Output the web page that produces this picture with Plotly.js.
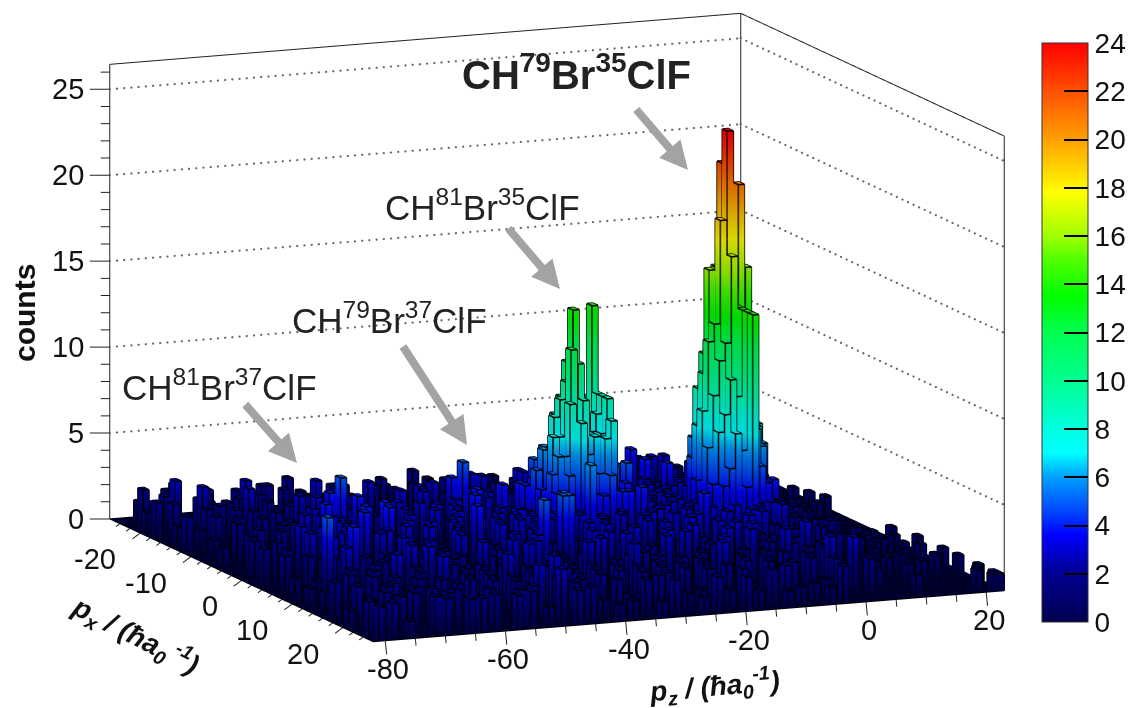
<!DOCTYPE html>
<html><head><meta charset="utf-8">
<script src="https://cdn.plot.ly/plotly-3.0.1.min.js"></script>
<style>html,body{margin:0;padding:0;background:#fff}#g{width:1128px;height:708px}</style></head>
<body><div id="g"></div>
<script>
// Axis extents and ticks
const pxEdges=[-26,26], pzEdges=[-82,23], zTop=26.45;
const zMajor=[0,5,10,15,20,25], zMinor=[1,2,3,4,6,7,8,9,11,12,13,14,16,17,18,19,21,22,23,24,26];
const pzMajor=[-80,-60,-40,-20,0,20], pzMinor=[-75,-70,-65,-55,-50,-45,-35,-30,-25,-15,-10,-5,5,10,15];
const pxMajor=[-20,-10,0,10,20], pxMinor=[-24,-22,-18,-16,-14,-12,-8,-6,-4,-2,2,4,6,8,12,14,16,18,22,24];
const cbTicks=[0,2,4,6,8,10,12,14,16,18,20,22,24];
// Palette: count level, colour
const palLevels=[0,2,3.6,4.5,6,7,8,10,12,13.5,15,16,17.8,20,22,24];
const palColors=['#000050','#000090','#0000ff','#0040ff','#00a0ff','#00ffff','#00ffe0','#00ff90','#00ff50','#00ff00','#50ff00','#a0ff00','#ffff00','#ffa000','#ff5000','#ff0000'];
// Counts per px bin: flat pairs pz bin, count (empty bins omitted)
const px_m26=[-78,1,-77,1,-60,1,-44,1,-30,1,-12,1];
const px_m25=[-74,1,-73,2,-58,1,-52,1,-38,1,-20,1,-4,1,6,1];
const px_m24=[-79,2,-69,1,-68,1,-55,2,-41,1,-26,1,-9,2,12,1];
const px_m23=[-76,2,-75,2,-63,1,-49,1,-35,2,-18,1,-2,1,9,1];
const px_m22=[-80,1,-70,2,-61,2,-60,2,-46,1,-32,1,-23,1,-7,1,4,1,15,1];
const px_m21=[-78,2,-66,2,-56,1,-42,2,-28,1,-13,1,1,2,11,1];
const px_m20=[-77,3,-72,2,-59,2,-51,2,-50,2,-37,1,-21,1,-5,2,7,1,18,1];
const px_m19=[-81,2,-74,2,-64,2,-54,1,-45,2,-33,2,-16,1,-10,1,3,1,14,1];
const px_m18=[-79,2,-68,2,-67,3,-48,1,-39,2,-29,2,-20,2,-8,2,5,1,10,1];
const px_m17=[-75,3,-71,2,-62,1,-57,2,-43,2,-34,1,-24,1,-14,2,0,2,8,1,16,1];
const px_m16=[-80,1,-73,2,-65,2,-57,3,-52,2,-40,2,-36,1,-27,2,-12,2,-3,2,2,1,13,1];
const px_m15=[-76,2,-69,3,-61,2,-49,2,-44,2,-31,2,-22,1,-17,2,-2,3,0,3,6,1,12,1];
const px_m14=[-78,1,-72,2,-63,2,-58,2,-50,3,-46,2,-38,2,-33,3,-25,3,-19,2,-6,2,3,1,9,1,17,1];
const px_m13=[-81,2,-70,2,-66,1,-55,2,-47,2,-41,2,-32,3,-25,3,-15,2,-9,2,1,2,7,1,14,1];
const px_m12=[-77,2,-67,2,-60,2,-53,2,-41,3,-36,2,-28,2,-21,3,-8,4,-4,2,4,2,11,1,19,1];
const px_m11=[-74,2,-64,3,-56,2,-44,3,-39,2,-30,2,-24,3,-13,2,-6,3,-1,2,8,2,15,1];
const px_m10=[-79,1,-71,2,-62,3,-48,3,-42,2,-35,2,-26,2,-18,3,-11,2,-3,3,5,1,10,2,20,1];
const px_m9=[-76,2,-65,2,-59,3,-51,2,-45,3,-38,3,-29,3,-20,3,-12,3,-6,2,0,3,6,2,13,1];
const px_m8=[-73,1,-68,2,-61,3,-54,2,-47,2,-41,3,-33,3,-27,3,-23,2,-16,3,-9,4,2,2,9,1,16,1,21,1];
const px_m7=[-80,1,-70,2,-63,3,-57,2,-50,2,-42,4,-36,3,-30,3,-25,3,-19,2,-10,3,-5,3,1,3,7,1,12,1];
const px_m6=[-75,2,-66,3,-60,2,-52,3,-45,2,-41,5,-34,3,-28,4,-21,3,-14,3,-7,4,4,2,10,2,18,1];
const px_m5=[-72,2,-64,4,-58,3,-49,3,-43,3,-38,3,-30,5,-26,4,-18,2,-11,3,-6,3,-4,4,3,3,8,1,15,1];
const px_m4=[-78,2,-69,3,-63,5,-55,3,-47,3,-40,3,-33,3,-31,4,-28,4,-25,5,-22,4,-12,2,-8,3,-4,3,-2,5,-1,3,6,1,11,1];
const px_m3=[-74,1,-67,3,-61,4,-53,3,-45,3,-37,4,-34,4,-30,6,-28,6,-26,7,-22,14,-20,6,-18,3,-14,3,-10,3,-6,3,-4,6,-3,8,-2,9,0,6,1,3,9,1,14,1];
const px_m2=[-79,2,-71,2,-65,3,-57,3,-49,3,-42,4,-34,4,-31,6,-29,8,-28,9,-27,11,-26,14,-25,9,-24,7,-22,9,-21,7,-19,4,-16,3,-12,3,-6,6,-5,8,-4,10,-3,13,-2,15,-1,12,0,9,1,5,3,3,7,1];
const px_m1=[-76,2,-68,4,-62,3,-54,3,-46,3,-39,3,-33,5,-30,8,-29,9,-28,10,-27,9,-26,11,-25,8,-24,7,-23,8,-22,9,-21,7,-20,5,-18,5,-14,3,-11,3,-7,5,-6,9,-5,11,-4,13,-3,16,-2,22,-1,17,0,12,1,10,2,5,5,2,10,1];
const px_0=[-73,3,-66,3,-59,4,-51,2,-44,4,-37,3,-33,4,-31,7,-30,7,-29,7,-28,12,-27,7,-26,9,-25,7,-24,6,-23,7,-22,9,-21,5,-19,4,-15,3,-12,3,-7,7,-6,10,-5,16,-4,16,-3,18,-2,24,-1,18,0,13,1,16,2,6,3,4,6,2,13,1];
const px_1=[-80,2,-70,3,-63,4,-56,3,-48,3,-41,3,-36,3,-32,5,-31,6,-30,6,-29,9,-28,6,-27,7,-26,6,-25,7,-24,5,-23,6,-22,4,-20,3,-16,3,-11,3,-8,4,-7,8,-6,12,-5,13,-4,19,-3,13,-2,15,-1,21,0,12,1,9,2,7,3,4,8,2,15,1];
const px_2=[-77,2,-67,3,-60,4,-53,3,-45,3,-39,3,-34,3,-32,4,-30,5,-28,8,-27,4,-26,5,-25,5,-24,7,-23,8,-21,3,-18,4,-13,3,-9,2,-7,6,-6,9,-5,11,-4,12,-3,17,-2,14,-1,8,0,9,1,7,2,6,4,3,10,1];
const px_3=[-74,3,-65,4,-58,3,-50,3,-43,3,-37,3,-33,3,-31,4,-29,3,-27,4,-25,3,-24,5,-22,4,-21,4,-15,3,-10,3,-7,4,-6,7,-5,8,-4,10,-3,9,-2,14,-1,7,0,7,1,6,3,4,6,2,12,1];
const px_4=[-79,2,-69,3,-62,3,-55,3,-47,4,-40,3,-36,2,-30,3,-28,3,-26,4,-23,3,-20,2,-17,3,-12,3,-8,2,-6,4,-5,5,-4,7,-3,6,-2,14,-1,5,0,5,1,4,2,3,8,1,16,1];
const px_5=[-76,2,-72,3,-64,3,-57,2,-51,3,-44,3,-38,3,-35,3,-29,6,-27,3,-24,3,-19,3,-13,3,-9,3,-5,3,-3,4,-2,14,-1,3,1,3,5,2,21,1];
const px_6=[-79,1,-72,2,-64,2,-58,2,-52,3,-46,2,-39,3,-33,2,-28,3,-21,3,-16,3,-11,4,-6,2,-2,3,2,3,7,2,12,1,17,1];
const px_7=[-75,2,-68,2,-62,3,-55,2,-49,2,-43,2,-37,2,-31,3,-24,2,-18,2,-13,3,-8,3,-4,3,0,2,5,1,9,2,15,1];
const px_8=[-77,1,-71,4,-65,2,-60,2,-53,3,-47,2,-41,3,-36,5,-29,3,-22,3,-15,3,-9,2,-3,3,3,2,8,1,13,1,19,1];
const px_9=[-73,3,-67,2,-59,3,-54,2,-45,3,-37,5,-36,5,-27,2,-20,3,-14,2,-6,3,1,2,6,2,11,1,16,1,22,1];
const px_10=[-80,1,-77,5,-69,2,-63,3,-56,2,-50,2,-42,3,-41,5,-33,3,-26,3,-19,2,-12,3,-5,2,2,2,7,1,14,1];
const px_11=[-74,2,-66,2,-61,3,-52,3,-47,3,-39,2,-31,3,-24,2,-17,3,-10,3,-3,2,4,1,10,1,18,1];
const px_12=[-79,1,-71,2,-64,2,-58,2,-49,2,-44,3,-36,2,-29,3,-22,3,-15,2,-8,3,-1,2,6,2,12,1,20,1];
const px_13=[-76,2,-68,3,-60,2,-54,2,-46,3,-40,2,-34,3,-27,2,-20,3,-13,3,-6,2,0,3,8,1,16,1];
const px_14=[-73,2,-65,2,-57,2,-51,2,-43,2,-37,3,-30,2,-24,3,-18,2,-10,3,-3,2,3,2,10,1,22,1];
const px_15=[-80,2,-70,2,-62,3,-55,2,-48,2,-41,2,-33,2,-26,2,-19,2,-12,2,-5,3,1,2,14,1];
const px_16=[-75,1,-67,2,-59,2,-52,3,-45,2,-38,2,-31,3,-23,2,-16,3,-9,2,-2,2,5,1,11,1,19,1];
const px_17=[-78,2,-72,2,-64,2,-56,2,-49,2,-42,2,-35,2,-28,2,-21,2,-14,2,-7,2,0,2,8,1,22,1];
const px_18=[-74,2,-66,1,-60,2,-53,2,-46,3,-39,2,-32,2,-25,2,-18,3,-11,2,-4,2,3,1,15,1];
const px_19=[-81,1,-70,2,-63,2,-57,2,-50,2,-43,2,-36,2,-29,2,-22,2,-15,2,-8,1,-1,3,12,1];
const px_20=[-76,2,-68,2,-61,1,-54,2,-47,2,-40,2,-33,2,-26,2,-19,2,-12,2,-5,2,2,3,6,1];
const px_21=[-79,1,-72,2,-65,2,-58,1,-51,3,-44,2,-37,1,-30,2,-23,2,-16,1,-9,2,-2,2,22,1];
const px_22=[-75,2,-67,2,-60,2,-53,2,-46,2,-39,2,-32,2,-25,1,-18,2,-11,2,-4,1,3,2,21,1];
const px_23=[-81,2,-70,2,-63,1,-56,2,-49,3,-42,1,-35,2,-28,1,-21,1,-14,2,-7,1,10,1,20,1];
const px_24=[-78,2,-69,2,-61,2,-55,2,-52,1,-45,2,-38,1,-31,2,-24,2,-17,1,-10,1,-3,2,22,1];
const px_25=[-81,2,-76,1,-66,2,-64,2,-58,2,-48,2,-41,1,-34,1,-27,1,-20,2,-13,1,-6,1,21,1,22,1];
const pxRows=[[-26,px_m26],[-25,px_m25],[-24,px_m24],[-23,px_m23],[-22,px_m22],[-21,px_m21],[-20,px_m20],[-19,px_m19],[-18,px_m18],[-17,px_m17],[-16,px_m16],[-15,px_m15],[-14,px_m14],[-13,px_m13],[-12,px_m12],[-11,px_m11],[-10,px_m10],[-9,px_m9],[-8,px_m8],[-7,px_m7],[-6,px_m6],[-5,px_m5],[-4,px_m4],[-3,px_m3],[-2,px_m2],[-1,px_m1],[0,px_0],[1,px_1],[2,px_2],[3,px_3],[4,px_4],[5,px_5],[6,px_6],[7,px_7],[8,px_8],[9,px_9],[10,px_10],[11,px_11],[12,px_12],[13,px_13],[14,px_14],[15,px_15],[16,px_16],[17,px_17],[18,px_18],[19,px_19],[20,px_20],[21,px_21],[22,px_22],[23,px_23],[24,px_24],[25,px_25]];

// ----- build
const P={x:[],y:[],z:[],i:[],j:[],k:[],c:[]};
const E={x:[],y:[],z:[]};
const G={x:[],y:[],z:[]};
function push(T,a,b){T.x.push(a[0],b[0],null);T.y.push(a[1],b[1],null);T.z.push(a[2],b[2],null);}
function box(x0,x1,y0,y1,h,hc){
 const n=P.x.length;
 [[x0,y0,0],[x1,y0,0],[x1,y1,0],[x0,y1,0],[x0,y0,h],[x1,y0,h],[x1,y1,h],[x0,y1,h]].forEach(v=>{P.x.push(v[0]);P.y.push(v[1]);P.z.push(v[2]);P.c.push(v[2]>0?hc:0);});
 [[4,5,6],[4,6,7],[0,1,5],[0,5,4],[1,2,6],[1,6,5],[2,3,7],[2,7,6],[3,0,4],[3,4,7]].forEach(t=>{P.i.push(n+t[0]);P.j.push(n+t[1]);P.k.push(n+t[2]);});
}
{const n=P.x.length;[[pxEdges[0],pzEdges[0]],[pxEdges[1],pzEdges[0]],[pxEdges[1],pzEdges[1]],[pxEdges[0],pzEdges[1]]].forEach(v=>{P.x.push(v[0]);P.y.push(v[1]);P.z.push(0);P.c.push(0);});
P.i.push(n,n);P.j.push(n+1,n+2);P.k.push(n+2,n+3);}
pxRows.forEach(r=>{const px=r[0],a=r[1];
 for(let q=0;q<a.length;q+=2){const pz=a[q],h=a[q+1];
  box(px,px+1,pz,pz+1,h,h);
  [[px,pz],[px+1,pz],[px+1,pz+1],[px,pz+1]].forEach((c,ii,arr)=>{const d=arr[(ii+1)%4];push(E,[c[0],c[1],h],[d[0],d[1],h]);push(E,[c[0],c[1],0],[c[0],c[1],h]);});
 }});
for(let v=pxEdges[0];v<=pxEdges[1];v++)push(G,[v,pzEdges[0],0.005],[v,pzEdges[1],0.005]);
for(let v=pzEdges[0];v<=pzEdges[1];v++)push(G,[pxEdges[0],v,0.005],[pxEdges[1],v,0.005]);

const cmax=24;
const colorscale=palLevels.map((l,i)=>[l/cmax,palColors[i]]);
const W=1128,H=708;
const bars={type:'mesh3d',x:P.x,y:P.y,z:P.z,i:P.i,j:P.j,k:P.k,intensity:P.c,intensitymode:'vertex',colorscale,cmin:0,cmax,flatshading:true,
 lighting:{ambient:0.85,diffuse:0.3,specular:0,roughness:1,fresnel:0,facenormalsepsilon:0},lightposition:{x:100,y:-200,z:100},hoverinfo:'skip',
 showscale:true,colorbar:{x:1042/W,xanchor:'left',xpad:0,y:1-43/H,yanchor:'top',ypad:0,len:579/H,lenmode:'fraction',thickness:46,thicknessmode:'pixels',
  tickmode:'array',tickvals:cbTicks,ticktext:cbTicks.map(String),ticks:'inside',ticklen:24,tickwidth:1.5,tickcolor:'#000',tickfont:{family:'Liberation Sans',size:28,color:'#111'},outlinecolor:'#333',outlinewidth:1,borderwidth:0,bgcolor:'rgba(0,0,0,0)'}};
const edges={type:'scatter3d',mode:'lines',x:E.x,y:E.y,z:E.z,line:{color:'#000',width:3},hoverinfo:'skip',showlegend:false,connectgaps:false};
const grid={type:'scatter3d',mode:'lines',x:G.x,y:G.y,z:G.z,line:{color:'#000',width:2},hoverinfo:'skip',showlegend:false,connectgaps:false};

const F={x:[],y:[],z:[]};
function fseg(a,b){push(F,a,b);}
const [xa,xb]=pxEdges,[ya,yb]=pzEdges;
fseg([xa,ya,0],[xa,ya,zTop]);fseg([xa,ya,zTop],[xa,yb,zTop]);fseg([xa,yb,zTop],[xb,yb,zTop]);
fseg([xb,yb,zTop],[xb,yb,0]);fseg([xa,yb,0],[xa,yb,zTop]);
fseg([xa,ya,0],[xb,ya,0]);fseg([xb,ya,0],[xb,yb,0]);
const pxX=5.08,pzX=6.02;
function zTick(z,L){const b=-L/(pzX+0.205*pxX);fseg([xa,ya,z],[xa+0.205*b,ya+b,z]);}
zMajor.forEach(z=>zTick(z,20));zMinor.forEach(z=>zTick(z,9));
function pzTick(v,L){fseg([xb,v,0],[xb+L*0.02,v,-L/17.2]);}
pzMajor.forEach(v=>pzTick(v,13));pzMinor.forEach(v=>pzTick(v,7));
function pxTick(v,L){fseg([v,ya,0],[v,ya-L*0.13,-L*0.03]);}
pxMajor.forEach(v=>pxTick(v,10));pxMinor.forEach(v=>pxTick(v,5));
const frame={type:'scatter3d',mode:'lines',x:F.x,y:F.y,z:F.z,line:{color:'#222',width:2},hoverinfo:'skip',showlegend:false};
// dotted grid on back walls: small dots placed along each wall at every major z tick
const D={x:[],y:[],z:[]};
zMajor.filter(z=>z>0).forEach(z=>{
 for(let v=ya;v<=yb;v+=1.2){D.x.push(xa);D.y.push(v);D.z.push(z);}
 for(let v=xa;v<=xb;v+=1.1){D.x.push(v);D.y.push(yb);D.z.push(z);}
});
const dots={type:'scatter3d',mode:'markers',x:D.x,y:D.y,z:D.z,marker:{color:'#666',size:1.3,line:{width:0}},hoverinfo:'skip',showlegend:false};

const tf={family:'Liberation Sans',size:29,color:'#111'};
const sceneAnn=[
 ...zMajor.map(z=>({x:xa,y:ya,z:z,text:String(z),showarrow:false,xanchor:'right',xshift:-24,font:tf})),
 ...pzMajor.map(v=>({x:xb,y:v,z:0,text:String(v),showarrow:false,xanchor:'center',yanchor:'middle',xshift:3,yshift:-28,font:tf})),
 ...pxMajor.map(v=>({x:v,y:ya,z:0,text:String(v),showarrow:false,xanchor:'right',yanchor:'middle',xshift:-22,yshift:-26,font:tf}))
];
function pap(x,y,o){return Object.assign({xref:'paper',yref:'paper',x:x/W,y:1-y/H,showarrow:false,xanchor:'center',yanchor:'middle'},o);}
function arrow(tx,ty,hx,hy){return {xref:'paper',yref:'paper',x:hx/W,y:1-hy/H,axref:'pixel',ayref:'pixel',ax:tx-hx,ay:ty-hy,text:'',showarrow:true,arrowcolor:'#a3a3a3',arrowwidth:8,arrowhead:2,arrowsize:0.7,standoff:0,startstandoff:0};}
const lf={family:'Liberation Sans',size:35,color:'#222'};
const tb={family:'Liberation Sans',size:28,color:'#111'};
const dir=[0.905,-0.377,0.194],r=2;
const zoomK=2.457*708/680;
const layout={width:W,height:H,margin:{l:0,r:0,t:0,b:0,autoexpand:false},paper_bgcolor:'#fff',showlegend:false,hovermode:false,
 scene:{domain:{x:[0,1-14/W],y:[28/H,1]},bgcolor:'rgba(0,0,0,0)',aspectmode:'manual',aspectratio:{x:1*zoomK,y:0.9655*zoomK,z:0.5842*zoomK},
  camera:{projection:{type:'orthographic'},eye:{x:dir[0]*r,y:dir[1]*r,z:dir[2]*r},center:{x:0,y:0,z:0},up:{x:0,y:0,z:1}},
  xaxis:{range:[-33,33],visible:false},yaxis:{range:[-94,35],visible:false},zaxis:{range:[-2,27],visible:false},annotations:sceneAnn},
 annotations:[
  pap(460,72,{xanchor:'left',text:'<b>CH<sup>79</sup>Br<sup>35</sup>ClF</b>',font:{family:'Liberation Sans',size:40,color:'#222'}}),
  pap(383,205,{xanchor:'left',text:'CH<sup>81</sup>Br<sup>35</sup>ClF',font:lf}),
  pap(290,318,{xanchor:'left',text:'CH<sup>79</sup>Br<sup>37</sup>ClF',font:lf}),
  pap(120,385,{xanchor:'left',text:'CH<sup>81</sup>Br<sup>37</sup>ClF',font:lf}),
  arrow(635,108,688,170),arrow(507,227,560,289),arrow(402,345,467,445),arrow(244,403,297,463),
  pap(24,313,{text:'<b>counts</b>',textangle:-90,font:{family:'Liberation Sans',size:30,color:'#111'}}),
  pap(135,635,{text:'<b><i>p<sub>x</sub> / (ħa<sub>0</sub><sup> -1</sup>)</i></b>',textangle:27,font:tb}),
  pap(714,686,{text:'<b><i>p<sub>z</sub> / (ħa<sub>0</sub><sup>-1</sup>)</i></b>',textangle:-5,font:tb})
 ]};
Plotly.newPlot('g',[bars,grid,edges,frame,dots],layout,{displayModeBar:false});
</script></body></html>
